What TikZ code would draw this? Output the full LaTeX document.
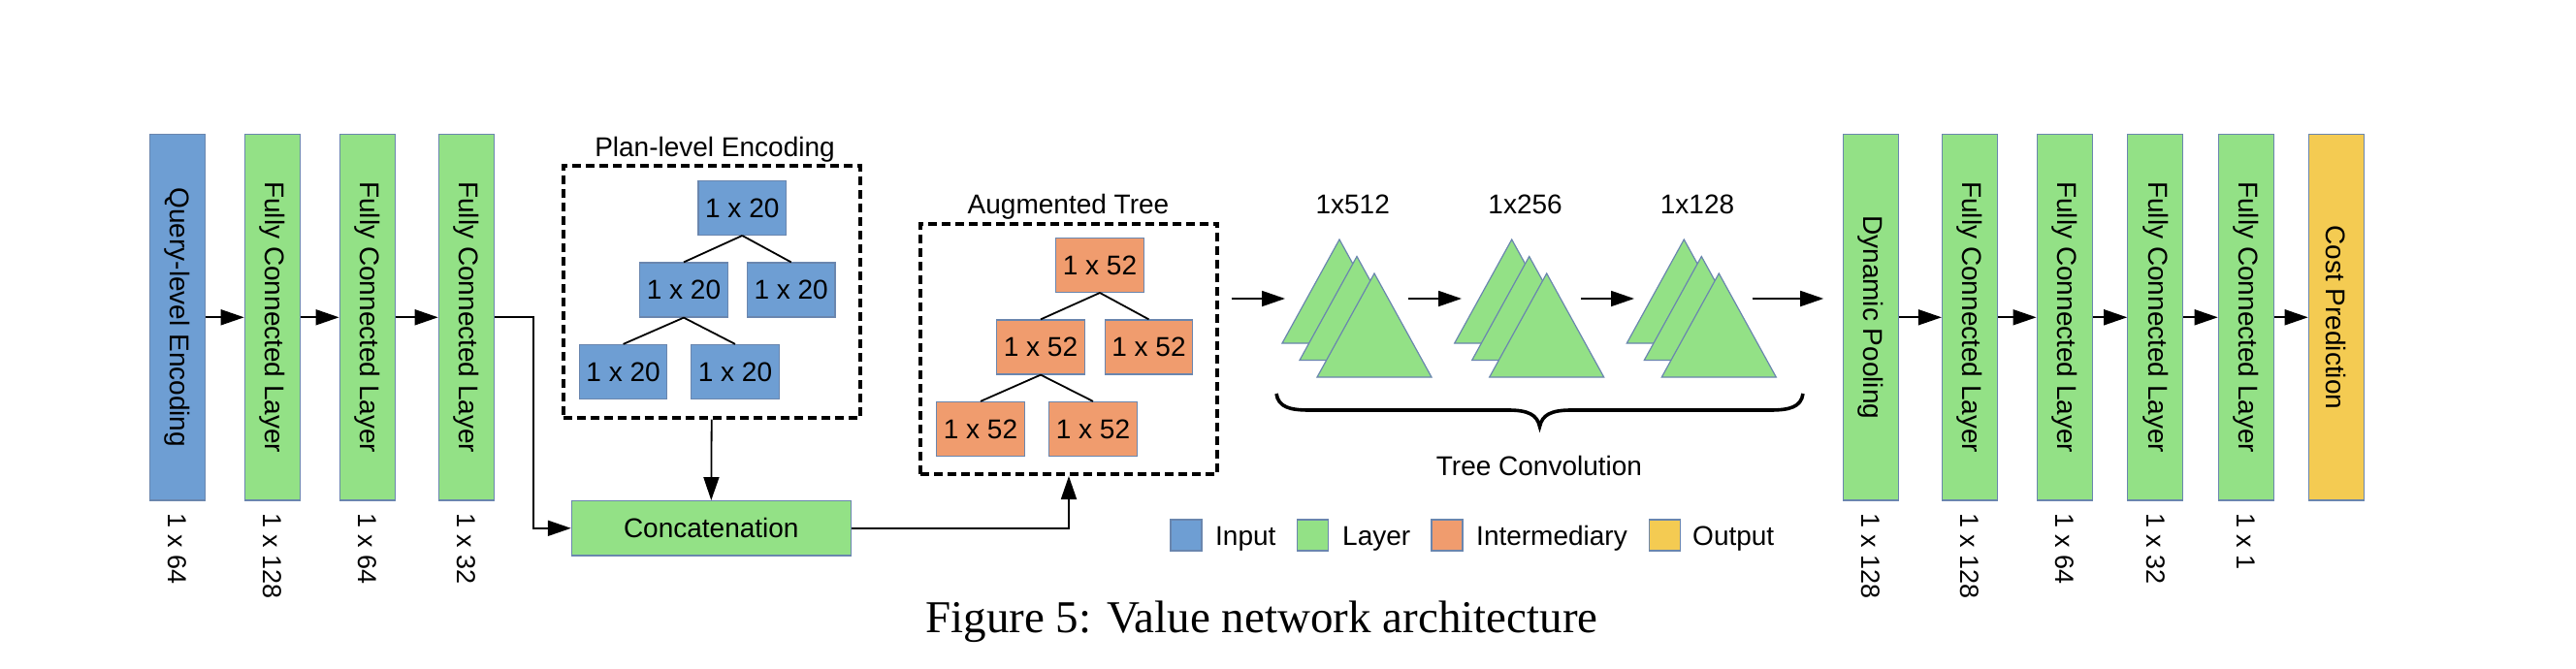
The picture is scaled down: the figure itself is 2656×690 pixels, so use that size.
\documentclass[tikz,border=0pt]{standalone}
\usepackage{fontspec}
\usepackage{graphicx}
\setmainfont{Liberation Sans}
\newfontfamily\capfont{Liberation Serif}
\usetikzlibrary{arrows.meta}
\definecolor{cblue}{HTML}{6E9ED3}
\definecolor{cgreen}{HTML}{93E186}
\definecolor{corange}{HTML}{F09C6E}
\definecolor{cyellow}{HTML}{F4CB52}
\definecolor{cbord}{HTML}{6A86AE}
\tikzset{
  txt/.style={font=\fontsize{28}{32}\selectfont, inner sep=0pt},
  vbox/.style={rectangle, draw=cbord, line width=1.2pt, minimum width=57pt, minimum height=377.4pt, inner sep=0pt, font=\fontsize{28}{32}\selectfont},
  dimlab/.style={anchor=north, inner sep=0pt, font=\fontsize{27}{30}\selectfont},
  tbox/.style={rectangle, draw=cbord, line width=1.2pt, minimum width=90.5pt, minimum height=56pt, inner sep=0pt, font=\fontsize{28}{32}\selectfont},
  tline/.style={line width=1.8pt},
  dbox/.style={rectangle, draw=black, line width=4pt, dash pattern=on 9pt off 5pt, inner sep=0pt},
  arr/.style={line width=1.8pt, -{Triangle[length=24pt,width=16pt]}},
  lsq/.style={rectangle, draw=cbord, line width=1.2pt, minimum size=32pt, inner sep=0pt},
  tri/.style={fill=cgreen, draw=cbord, line width=1.2pt, line join=miter}
}
\begin{document}
\begin{tikzpicture}[x=1pt,y=-1pt]
\useasboundingbox (0,0) rectangle (2656,690);

% left column of layers
\node[vbox, fill=cblue]  (qe)  at (183.2,327.3) {\rotatebox{-90}{Query-level Encoding}};
\node[vbox, fill=cgreen] (fc1) at (280.8,327.3) {\rotatebox{-90}{Fully Connected Layer}};
\node[vbox, fill=cgreen] (fc2) at (378.7,327.3) {\rotatebox{-90}{Fully Connected Layer}};
\node[vbox, fill=cgreen] (fc3) at (480.8,327.3) {\rotatebox{-90}{Fully Connected Layer}};
\node[dimlab] (lqe)  at (183.2,529) {\rotatebox{-90}{1 x 64}};
\node[dimlab] (lfc1) at (280.8,529) {\rotatebox{-90}{1 x 128}};
\node[dimlab] (lfc2) at (378.7,529) {\rotatebox{-90}{1 x 64}};
\node[dimlab] (lfc3) at (480.8,529) {\rotatebox{-90}{1 x 32}};
\draw[arr] (qe.east) -- (fc1.west);
\draw[arr] (fc1.east) -- (fc2.west);
\draw[arr] (fc2.east) -- (fc3.west);

% plan-level encoding
\node[dbox, minimum width=306.2pt, minimum height=259.6pt] (plan) at (733.7,300.8) {};
\node[txt, anchor=base] (plant) at (737,161.5) {Plan-level Encoding};
\node[tbox, fill=cblue] (p1) at (765.3,214.4) {1 x 20};
\node[tbox, fill=cblue] (p2) at (705,299) {1 x 20};
\node[tbox, fill=cblue] (p3) at (815.7,299) {1 x 20};
\node[tbox, fill=cblue] (p4) at (642.6,383.5) {1 x 20};
\node[tbox, fill=cblue] (p5) at (758,383.5) {1 x 20};
\draw[tline] (p1.south) -- (p2.north);
\draw[tline] (p1.south) -- (p3.north);
\draw[tline] (p2.south) -- (p4.north);
\draw[tline] (p2.south) -- (p5.north);

% concatenation
\node[rectangle, draw=cbord, line width=1.2pt, fill=cgreen, minimum width=287.8pt, minimum height=56.3pt, inner sep=0pt, font=\fontsize{28}{32}\selectfont] (concat) at (733.3,544.8) {Concatenation};
\draw[arr] (fc3.east) -- ++(40,0) |- (concat.west);
\draw[arr] (plan.south) -- (concat.north);

% augmented tree
\node[dbox, minimum width=306pt, minimum height=258.5pt] (aug) at (1102,359.75) {};
\node[txt, anchor=base] (augt) at (1101.5,220) {Augmented Tree};
\node[tbox, fill=corange] (a1) at (1134,273.4) {1 x 52};
\node[tbox, fill=corange] (a2) at (1073,358) {1 x 52};
\node[tbox, fill=corange] (a3) at (1184.5,358) {1 x 52};
\node[tbox, fill=corange] (a4) at (1011,442.5) {1 x 52};
\node[tbox, fill=corange] (a5) at (1127,442.5) {1 x 52};
\draw[tline] (a1.south) -- (a2.north);
\draw[tline] (a1.south) -- (a3.north);
\draw[tline] (a2.south) -- (a4.north);
\draw[tline] (a2.south) -- (a5.north);
\draw[arr] (concat.east) -| (aug.south);

% tree convolution triangles
\foreach \L in {1322,1499.7,1677.3}{
  \foreach \i in {0,1,2}{
    \pgfmathsetmacro{\lx}{\L+18*\i}
    \pgfmathsetmacro{\by}{354+17.5*\i}
    \pgfmathsetmacro{\ax}{\L+59+18*\i}
    \pgfmathsetmacro{\ay}{247+17.5*\i}
    \pgfmathsetmacro{\rx}{\L+118+18*\i}
    \filldraw[tri] (\lx,\by) -- (\ax,\ay) -- (\rx,\by) -- cycle;
  }
}
\node[txt, anchor=base] (t1) at (1394.7,220) {1x512};
\node[txt, anchor=base] (t2) at (1572.6,220) {1x256};
\node[txt, anchor=base] (t3) at (1750,220) {1x128};
\coordinate (c1a) at (1269.5,308); \coordinate (c1b) at (1325,308);
\coordinate (c2a) at (1452,308);   \coordinate (c2b) at (1507,308);
\coordinate (c3a) at (1630,308);   \coordinate (c3b) at (1685,308);
\coordinate (c4a) at (1806.7,308); \coordinate (c4b) at (1880.2,308);
\draw[arr] (c1a) -- (c1b);
\draw[arr] (c2a) -- (c2b);
\draw[arr] (c3a) -- (c3b);
\draw[arr] (c4a) -- (c4b);
\draw[line width=3.6pt] (1316,406) .. controls (1318,420) and (1330,423) .. (1350,423) -- (1555,423) .. controls (1576,423) and (1585,428) .. (1587.5,440) .. controls (1590,428) and (1599,423) .. (1620,423) -- (1825,423) .. controls (1845,423) and (1857,420) .. (1859,406);
\node[txt, anchor=base] (tc) at (1587,490) {Tree Convolution};

% legend
\node[lsq, fill=cblue]   (lg1) at (1223,552) {};
\node[txt, anchor=base west] (lg1t) at (1253,562.6) {Input};
\node[lsq, fill=cgreen]  (lg2) at (1353.5,552) {};
\node[txt, anchor=base west] (lg2t) at (1384,562.6) {Layer};
\node[lsq, fill=corange] (lg3) at (1492,552) {};
\node[txt, anchor=base west] (lg3t) at (1522,562.6) {Intermediary};
\node[lsq, fill=cyellow] (lg4) at (1716.7,552) {};
\node[txt, anchor=base west] (lg4t) at (1745,562.6) {Output};

% right column
\node[vbox, fill=cgreen]  (dp)  at (1928.8,327.3) {\rotatebox{-90}{Dynamic Pooling}};
\node[vbox, fill=cgreen]  (r1)  at (2031,327.3) {\rotatebox{-90}{Fully Connected Layer}};
\node[vbox, fill=cgreen]  (r2)  at (2128.7,327.3) {\rotatebox{-90}{Fully Connected Layer}};
\node[vbox, fill=cgreen]  (r3)  at (2222.3,327.3) {\rotatebox{-90}{Fully Connected Layer}};
\node[vbox, fill=cgreen]  (r4)  at (2315.8,327.3) {\rotatebox{-90}{Fully Connected Layer}};
\node[vbox, fill=cyellow] (cp)  at (2408.8,327.3) {\rotatebox{-90}{Cost Prediction}};
\node[dimlab] (ldp) at (1928.8,529) {\rotatebox{-90}{1 x 128}};
\node[dimlab] (lr1) at (2031,529) {\rotatebox{-90}{1 x 128}};
\node[dimlab] (lr2) at (2128.7,529) {\rotatebox{-90}{1 x 64}};
\node[dimlab] (lr3) at (2222.3,529) {\rotatebox{-90}{1 x 32}};
\node[dimlab] (lr4) at (2315.8,529) {\rotatebox{-90}{1 x 1}};
\draw[arr] (dp.east) -- (r1.west);
\draw[arr] (r1.east) -- (r2.west);
\draw[arr] (r2.east) -- (r3.west);
\draw[arr] (r3.east) -- (r4.west);
\draw[arr] (r4.east) -- (cp.west);

% caption
\node[inner sep=0pt, anchor=base, font=\capfont\fontsize{47}{52}\selectfont] (cap) at (1301,652) {Figure 5: Value network architecture};
\end{tikzpicture}
\end{document}
